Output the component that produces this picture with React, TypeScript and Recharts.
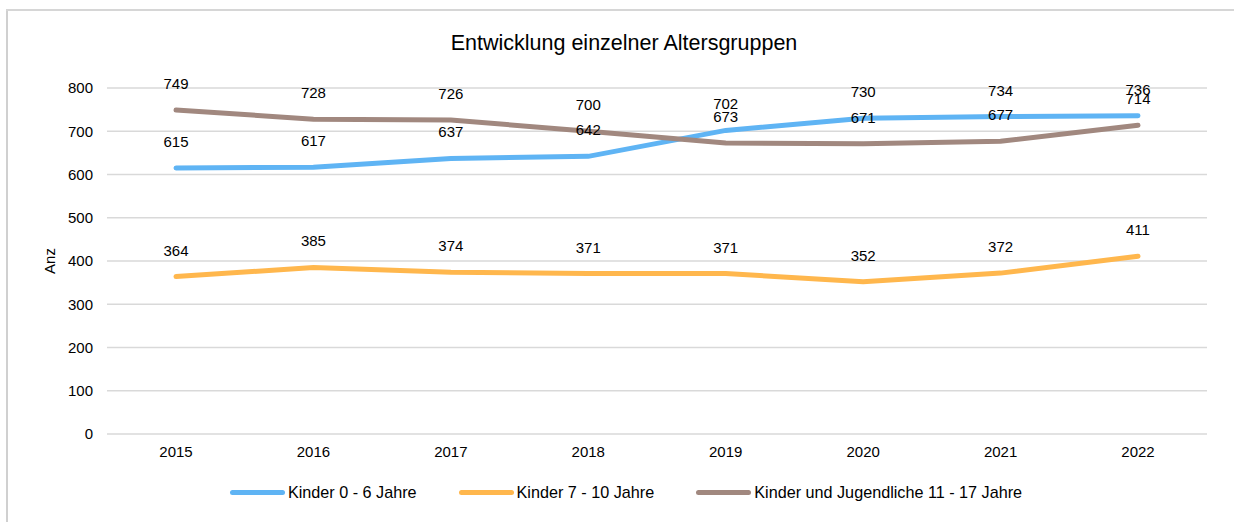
import { LineChart, Line, XAxis, YAxis, CartesianGrid, Legend, LabelList } from 'recharts';

const years = ['2015', '2016', '2017', '2018', '2019', '2020', '2021', '2022'];
const kinder0bis6 = [615, 617, 637, 642, 702, 730, 734, 736];
const kinder7bis10 = [364, 385, 374, 371, 371, 352, 372, 411];
const kinder11bis17 = [749, 728, 726, 700, 673, 671, 677, 714];
const yTicks = [0, 100, 200, 300, 400, 500, 600, 700, 800];

const seriesList = [
  { key: 'a', name: 'Kinder 0 - 6 Jahre', color: '#5FB4F4' },
  { key: 'b', name: 'Kinder 7 - 10 Jahre', color: '#FFB74D' },
  { key: 'c', name: 'Kinder und Jugendliche 11 - 17 Jahre', color: '#A1887F' },
];

const data = years.map((year, i) => ({
  year,
  a: kinder0bis6[i],
  b: kinder7bis10[i],
  c: kinder11bis17[i],
}));

const font = 'Arial, "Liberation Sans", sans-serif';

// legend drawn by hand so the icons look like the thick line swatches
const renderLegend = () => (
  <div style={{ display: 'flex', justifyContent: 'center', alignItems: 'center', fontFamily: font, fontSize: 16.2, color: '#000' }}>
    {seriesList.map((s, i) => (
      <div key={s.key} style={{ display: 'flex', alignItems: 'center', marginLeft: i === 0 ? 0 : 42 }}>
        <div style={{ width: 55, height: 5, borderRadius: 3, background: s.color, marginRight: 3 }} />
        <span>{s.name}</span>
      </div>
    ))}
  </div>
);

export default function App() {
  return (
    <div style={{ position: 'relative', width: 1226, height: 511, marginTop: 3 }}>
      {/* frame lines (left + top) like the exported chart border */}
      <div style={{ position: 'fixed', left: 6, top: 9, width: 2, height: 513, background: '#d0d0d0', zIndex: 5 }} />
      <div style={{ position: 'fixed', left: 6, top: 9, width: 1228, height: 2, background: '#d6d6d6', zIndex: 5 }} />
      <div
        style={{
          position: 'absolute',
          top: 20,
          left: 0,
          width: 1232,
          textAlign: 'center',
          fontFamily: font,
          fontSize: 21.5,
          color: '#000',
        }}
      >
        Entwicklung einzelner Altersgruppen
      </div>
      <LineChart width={1226} height={511} data={data} margin={{ top: 77, right: 27, left: 0, bottom: 58 }}>
        <CartesianGrid vertical={false} stroke="#d9d9d9" strokeWidth={1.5} />
        <XAxis
          dataKey="year"
          axisLine={false}
          tickLine={false}
          tickMargin={6}
          height={30}
          padding={{ left: 69, right: 69 }}
          tick={{ fill: '#000', fontSize: 15, fontFamily: font }}
        />
        <YAxis
          domain={[0, 800]}
          ticks={yTicks}
          axisLine={false}
          tickLine={false}
          tickMargin={8}
          width={99}
          tick={{ fill: '#000', fontSize: 15, fontFamily: font }}
          label={{ value: 'Anz', angle: -90, position: 'insideLeft', offset: 42, style: { fill: '#000', fontSize: 15, fontFamily: font, textAnchor: 'middle' } }}
        />
        <Legend layout="horizontal" verticalAlign="middle" content={renderLegend} wrapperStyle={{ top: 472, left: 5, width: 1226 }} />
        {seriesList.map((s) => (
          <Line
            key={s.key}
            type="linear"
            dataKey={s.key}
            name={s.name}
            stroke={s.color}
            strokeWidth={5}
            strokeLinecap="round"
            dot={false}
            activeDot={false}
            isAnimationActive={false}
          >
            <LabelList dataKey={s.key} position="top" offset={21} style={{ fill: '#000', fontSize: 15, fontFamily: font }} />
          </Line>
        ))}
      </LineChart>
    </div>
  );
}
